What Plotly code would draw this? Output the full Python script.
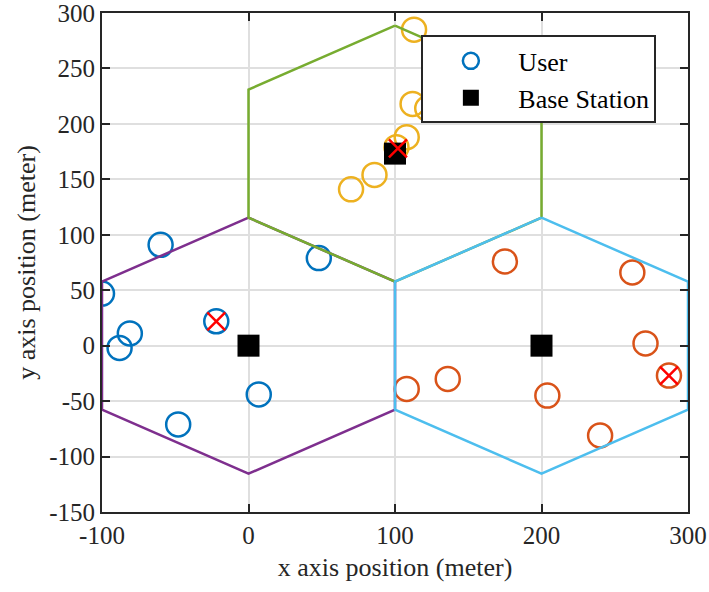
import numpy as np
import plotly.graph_objects as go

# Cell (base station) centres
bs_x = [0, 200, 100]
bs_y = [0, 0, 173.2]
cell_radius = 115.47
cell_colors = ["#7E2F8E", "#4DBEEE", "#77AC30"]

# Users per cell
users0_x = [-60, -100, -81, -88, -22, -48, 7, 48]
users0_y = [91, 47, 11, -2, 22, -71, -44, 79]
users1_x = [175, 262, 271, 287, 136, 108, 204, 240]
users1_y = [76, 66, 2, -27, -30, -39, -45, -81]
users2_x = [113, 112, 122, 108, 101, 86, 70]
users2_y = [285, 218, 214, 188, 179, 154, 141]
user_colors = ["#0072BD", "#D95319", "#EDB120"]

# Selected users (red crosses)
sel_x = [-22, 287, 102]
sel_y = [22, -27, 178]

x_ticks = [-100, 0, 100, 200, 300]
x_ticktext = ["-100", "0", "100", "200", "300"]
y_ticks = [-150, -100, -50, 0, 50, 100, 150, 200, 250, 300]
y_ticktext = ["-150", "-100", "-50", "0", "50", "100", "150", "200", "250", "300"]

FONT = "Liberation Serif"
AX = "#262626"

fig = go.Figure()

users = [(users0_x, users0_y), (users1_x, users1_y), (users2_x, users2_y)]
for i, (ux, uy) in enumerate(users):
    fig.add_trace(go.Scatter(
        x=ux, y=uy, mode="markers", name="User", showlegend=(i == 0),
        marker=dict(symbol="circle-open", size=24, color=user_colors[i],
                    line=dict(width=2.5, color=user_colors[i]))))

# hexagons: order purple, green, light blue
ang = np.deg2rad(np.array([90, 30, -30, -90, -150, -210, 90]))
for idx in [0, 2, 1]:
    hx = bs_x[idx] + cell_radius * np.cos(ang)
    hy = bs_y[idx] + cell_radius * np.sin(ang)
    fig.add_trace(go.Scatter(x=hx, y=hy, mode="lines", showlegend=False,
                             line=dict(color=cell_colors[idx], width=2.5),
                             hoverinfo="skip"))

fig.add_trace(go.Scatter(
    x=bs_x, y=bs_y, mode="markers", name="Base Station",
    marker=dict(symbol="square", size=22, color="black")))

fig.add_trace(go.Scatter(
    x=sel_x, y=sel_y, mode="markers", showlegend=False,
    marker=dict(symbol="x-thin-open", size=18, color="#FF0000",
                line=dict(width=2.5, color="#FF0000"))))

axis_common = dict(
    showgrid=True, gridcolor="#DFDFDF", gridwidth=2,
    showline=True, linecolor=AX, linewidth=2, mirror="allticks",
    ticks="inside", ticklen=8, tickwidth=2, tickcolor=AX,
    zeroline=False, automargin=False, ticklabeloverflow="allow",
    tickfont=dict(family=FONT, size=25, color=AX),
)

fig.update_layout(
    width=709, height=592,
    margin=dict(l=102, r=21, t=13, b=80),
    plot_bgcolor="white", paper_bgcolor="white",
    xaxis=dict(range=[-100, 300], tickvals=x_ticks, ticktext=x_ticktext,
               title=dict(text="x axis position (meter)",
                          font=dict(family=FONT, size=26, color=AX), standoff=10),
               **axis_common),
    yaxis=dict(range=[-150, 300], tickvals=y_ticks, ticktext=y_ticktext,
               title=dict(text="y axis position (meter)",
                          font=dict(family=FONT, size=26, color=AX), standoff=6),
               **axis_common),
    legend=dict(x=0.545, y=0.955, xanchor="left", yanchor="top",
                bgcolor="white", bordercolor=AX, borderwidth=2,
                font=dict(family=FONT, size=26, color="black"),
                itemwidth=85),
    showlegend=True,
)

fig.write_html("out.html")
